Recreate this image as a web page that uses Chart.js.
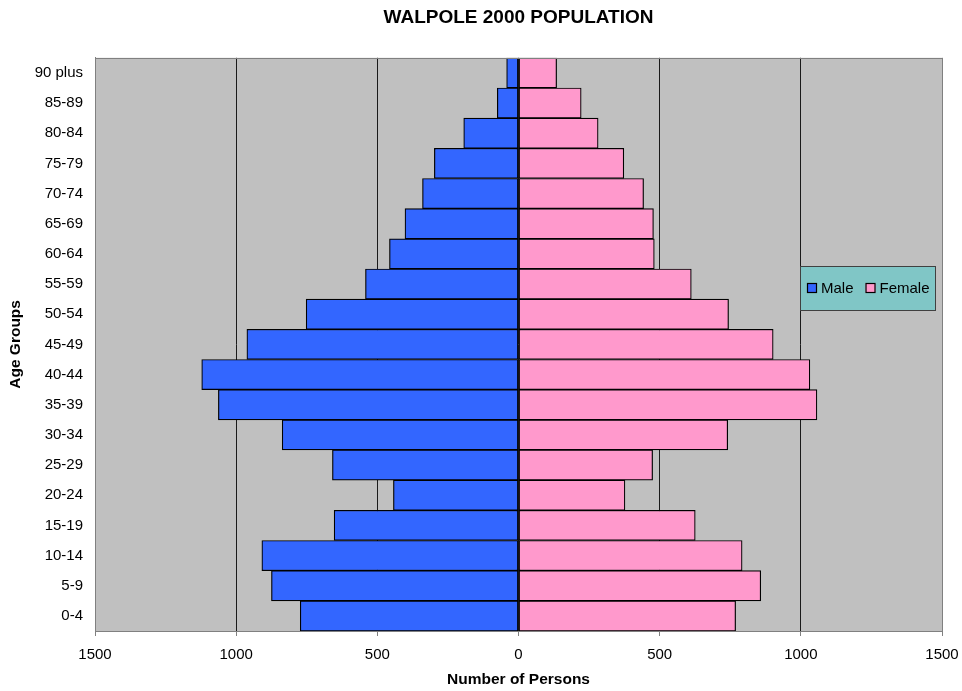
<!DOCTYPE html>
<html>
<head>
<meta charset="utf-8">
<title>Walpole 2000 Population</title>
<script src="https://cdn.jsdelivr.net/npm/chart.js@4.4.1/dist/chart.umd.min.js"></script>
<style>
  html, body { margin: 0; padding: 0; background: #ffffff; }
  #wrap { width: 962px; height: 691px; }
</style>
</head>
<body>
<div id="wrap"><canvas id="pyramid" width="962" height="691"></canvas></div>
<script>
// Age groups, oldest first (top of the pyramid)
const ageGroups = ['90 plus', '85-89', '80-84', '75-79', '70-74', '65-69', '60-64', '55-59', '50-54',
  '45-49', '40-44', '35-39', '30-34', '25-29', '20-24', '15-19', '10-14', '5-9', '0-4'];

// Persons per age group
const maleCounts = [42, 75, 194, 298, 340, 402, 457, 542, 752, 962, 1122, 1063, 837, 659, 443, 653, 909, 875, 773];
const femaleCounts = [135, 222, 282, 373, 443, 478, 481, 612, 744, 902, 1032, 1057, 741, 475, 377, 626, 792, 858, 769];

// Axis ticks (absolute persons either side of zero)
const xTicks = [-1500, -1000, -500, 0, 500, 1000, 1500];

const FONT = "'Liberation Sans', Arial, Helvetica, sans-serif";

// Grey plot area with a thin grey frame
const plotBackground = {
  id: 'plotBackground',
  beforeDraw(chart) {
    const { ctx, chartArea: a } = chart;
    ctx.save();
    ctx.fillStyle = '#C0C0C0';
    ctx.fillRect(a.left, a.top, a.right - a.left, a.bottom - a.top);
    ctx.restore();
  },
  afterDraw(chart) {
    const { ctx, chartArea: a } = chart;
    ctx.save();
    ctx.strokeStyle = '#808080';
    ctx.lineWidth = 1;
    ctx.strokeRect(Math.round(a.left) + 0.5, Math.round(a.top) + 0.5,
      Math.round(a.right - a.left), Math.round(a.bottom - a.top));
    ctx.restore();
  }
};

// Boxed legend inside the plot, right of centre
const boxLegend = {
  id: 'boxLegend',
  afterDraw(chart) {
    const { ctx, chartArea: a } = chart;
    const x = Math.round(a.right - 142), y = Math.round(a.top + 208), w = 135, h = 44;
    ctx.save();
    ctx.fillStyle = '#80C6C6';
    ctx.fillRect(x, y, w, h);
    ctx.strokeStyle = '#404040';
    ctx.lineWidth = 1;
    ctx.strokeRect(x + 0.5, y + 0.5, w, h);
    ctx.font = '15px ' + FONT;
    ctx.textBaseline = 'middle';
    let cx = x + 7;
    const cy = y + h / 2;
    chart.data.datasets.forEach(ds => {
      ctx.fillStyle = ds.backgroundColor;
      ctx.fillRect(cx, cy - 5, 10, 10);
      ctx.strokeStyle = '#000';
      ctx.lineWidth = 1.2;
      ctx.strokeRect(cx + 0.5, cy - 4.5, 9, 9);
      ctx.fillStyle = '#000';
      ctx.textAlign = 'left';
      ctx.fillText(ds.label, cx + 14, cy + 1);
      cx += 14 + ctx.measureText(ds.label).width + 12;
    });
    ctx.restore();
  }
};

new Chart(document.getElementById('pyramid'), {
  type: 'bar',
  data: {
    labels: ageGroups,
    datasets: [
      {
        label: 'Male',
        data: maleCounts.map(v => -v),
        backgroundColor: '#3366FF',
        borderColor: '#000000',
        borderWidth: 1.2,
        borderSkipped: false,
        barPercentage: 1,
        categoryPercentage: 1
      },
      {
        label: 'Female',
        data: femaleCounts,
        backgroundColor: '#FF99CC',
        borderColor: '#000000',
        borderWidth: 1.2,
        borderSkipped: false,
        barPercentage: 1,
        categoryPercentage: 1
      }
    ]
  },
  options: {
    indexAxis: 'y',
    responsive: false,
    animation: false,
    events: [],
    layout: { padding: { left: 0, right: 20, top: 0, bottom: 0 } },
    plugins: {
      legend: { display: false },
      tooltip: { enabled: false },
      title: {
        display: true,
        fullSize: false,
        text: 'WALPOLE 2000 POPULATION',
        color: '#000',
        font: { family: FONT, size: 19, weight: 'bold' },
        padding: { top: 6, bottom: 29 }
      }
    },
    scales: {
      x: {
        stacked: true,
        min: -1500,
        max: 1500,
        afterBuildTicks(scale) { scale.ticks = xTicks.map(v => ({ value: v })); },
        afterFit(scale) {
          scale.height = 60;
          scale.paddingLeft = 0;
          scale.paddingRight = 0;
        },
        ticks: {
          color: '#000',
          font: { family: FONT, size: 15 },
          padding: 10,
          maxRotation: 0,
          callback: v => String(Math.abs(v))
        },
        grid: {
          color: ctx => (ctx.tick && Math.abs(ctx.tick.value) === 1500) ? '#808080' : '#1a1a1a',
          tickColor: '#808080',
          tickLength: 5,
          lineWidth: 1
        },
        border: { display: true, color: '#808080' },
        title: {
          display: true,
          text: 'Number of Persons',
          color: '#000',
          font: { family: FONT, size: 15.5, weight: 'bold' },
          padding: { top: 0, bottom: 2 }
        }
      },
      y: {
        stacked: true,
        afterFit(scale) { scale.width = 95; },
        ticks: {
          color: '#000',
          font: { family: FONT, size: 15 },
          padding: 12
        },
        grid: { display: false, drawTicks: false },
        border: { display: true, color: '#808080' },
        title: {
          display: true,
          text: 'Age Groups',
          color: '#000',
          font: { family: FONT, size: 15.5, weight: 'bold' },
          padding: { top: 6, bottom: 0 }
        }
      }
    }
  },
  plugins: [plotBackground, boxLegend]
});
</script>
</body>
</html>
